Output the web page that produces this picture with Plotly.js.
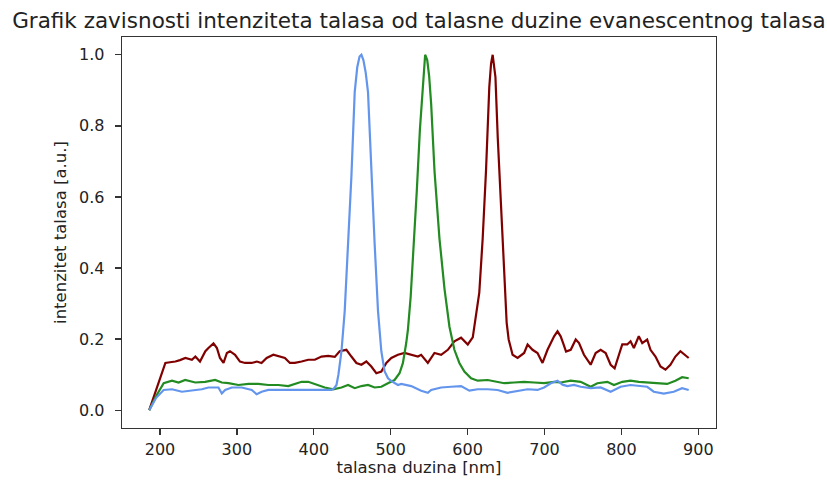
<!DOCTYPE html>
<html>
<head>
<meta charset="utf-8">
<script src="https://cdn.plot.ly/plotly-3.0.1.min.js"></script>
<style>html,body{margin:0;padding:0;background:#fff}#chart{width:827px;height:484px}</style>
</head>
<body>
<div id="chart"></div>
<script>
// wavelengths [nm] and normalized intensities
const redX = [186,196,207,213,220,226,233,241.5,246,252,259,263,269.6,274,278,282.6,287,291,297.6,304,310.6,319,326,332,338.7,347.4,356,362.4,368.9,375.4,384.1,392.8,401.3,410,418.7,427.3,433.7,442.4,448.9,455.4,461.9,468.3,474.8,481.3,487.8,494.3,500.8,509.4,518,526.7,535.4,539.6,548.3,556.9,565.6,574.3,582.8,591.5,600.2,606.7,610.9,615.2,619.6,623.9,628.2,630.5,632.6,634.2,636.2,639.2,643.6,647.8,650.8,653.4,658.5,665,673.5,678,684.4,690.9,697.4,703.9,712.5,716.9,721,724,728,734.1,740.6,744.9,751.3,760,766.5,773,779.5,786,791.2,796.8,801.1,807.6,811.9,816.2,822.6,827.1,833.5,837.8,844.3,850.8,857.3,863.7,870.2,876.7,883.2,887.5];
const redY = [0,0.065,0.133,0.135,0.137,0.141,0.147,0.142,0.151,0.137,0.166,0.175,0.188,0.175,0.147,0.133,0.161,0.166,0.156,0.137,0.133,0.133,0.137,0.133,0.147,0.156,0.151,0.147,0.133,0.133,0.137,0.142,0.142,0.151,0.153,0.150,0.166,0.170,0.151,0.133,0.128,0.137,0.123,0.104,0.109,0.133,0.147,0.156,0.161,0.156,0.151,0.156,0.133,0.161,0.156,0.170,0.194,0.204,0.185,0.205,0.265,0.331,0.483,0.672,0.909,0.975,1.0,0.975,0.937,0.767,0.578,0.388,0.246,0.199,0.156,0.147,0.161,0.185,0.170,0.161,0.133,0.170,0.208,0.222,0.208,0.190,0.165,0.170,0.199,0.189,0.156,0.128,0.161,0.170,0.161,0.128,0.118,0.156,0.185,0.185,0.194,0.175,0.208,0.189,0.199,0.170,0.151,0.123,0.114,0.128,0.151,0.166,0.156,0.147];

const greenX = [186,195,204.8,215.6,224.2,232.8,245.8,258.7,271.7,280.4,289,302,315,327.9,340.9,353.9,366.8,371.1,384.1,392.8,401.3,414.3,425.2,436,444.6,453.2,461.9,470.5,479.1,487.8,496.4,505,511.5,515.9,520.2,522.4,526,530,534,538,541.5,544.8,547.5,550,552.6,557,563.4,570,576.4,582.8,589.3,595.8,604.5,613.1,626.1,639,647.7,660.6,673.5,686.5,699.5,712.5,721.1,734.1,747,760,768.7,781.7,790.3,801.1,811.9,822.6,833.5,846.5,859.5,870.2,878.9,887.5];
const greenY = [0,0.040,0.076,0.083,0.078,0.085,0.078,0.080,0.085,0.078,0.076,0.071,0.074,0.074,0.071,0.071,0.068,0.071,0.080,0.080,0.074,0.064,0.059,0.064,0.071,0.062,0.068,0.071,0.064,0.066,0.076,0.085,0.104,0.133,0.189,0.227,0.32,0.46,0.62,0.79,0.91,1.0,0.985,0.94,0.862,0.672,0.483,0.341,0.235,0.170,0.133,0.109,0.090,0.083,0.085,0.080,0.076,0.078,0.080,0.078,0.076,0.080,0.078,0.083,0.080,0.066,0.076,0.080,0.071,0.080,0.083,0.080,0.078,0.076,0.074,0.083,0.093,0.090];

const blueX = [186,195,204.8,215.6,228.5,241.5,254.4,263.1,276,280.4,284.7,293.4,306.3,319.3,325.7,332.2,340.9,353.9,366.8,379.8,401.3,423,426.5,429.5,432,436,440.2,444.6,448.9,453.2,456.5,459.5,461.9,464.5,467.5,470.5,474.8,479.1,483.5,487.8,492,496.5,501,509.4,513.7,526.7,539.6,548.3,552.6,565.6,578.5,591.5,602.3,613.1,626.1,639,652,665,678,690.9,699.5,708.2,716.9,723.4,729.8,738.4,747,760,773,786,799,811.9,822.6,833.5,842.1,855.1,868.1,878.9,887.5];
const blueY = [0,0.035,0.057,0.059,0.052,0.055,0.059,0.064,0.064,0.047,0.057,0.064,0.064,0.057,0.045,0.052,0.057,0.057,0.057,0.057,0.055,0.057,0.062,0.071,0.100,0.166,0.279,0.469,0.658,0.895,0.965,0.995,1.0,0.985,0.95,0.895,0.658,0.469,0.279,0.166,0.110,0.090,0.082,0.071,0.074,0.068,0.055,0.049,0.057,0.064,0.066,0.068,0.055,0.059,0.059,0.057,0.049,0.055,0.059,0.057,0.064,0.076,0.083,0.072,0.068,0.071,0.066,0.062,0.064,0.052,0.066,0.071,0.068,0.066,0.052,0.047,0.052,0.062,0.057];

const xTicks = [200,300,400,500,600,700,800,900];
const yTicks = [0.0,0.2,0.4,0.6,0.8,1.0];
const yTickText = ["0.0","0.2","0.4","0.6","0.8","1.0"];

const titleText = "Grafik zavisnosti intenziteta talasa od talasne duzine evanescentnog talasa";
const xTitle = "talasna duzina [nm]";
const yTitle = "intenzitet talasa [a.u.]";

const FONT = "DejaVu Sans, Liberation Sans, sans-serif";
const lineW = 2.2;

const traces = [
  {x: redX, y: redY, type: "scatter", mode: "lines", line: {color: "#800000", width: lineW}, hoverinfo: "skip"},
  {x: greenX, y: greenY, type: "scatter", mode: "lines", line: {color: "#228B22", width: lineW}, hoverinfo: "skip"},
  {x: blueX, y: blueY, type: "scatter", mode: "lines", line: {color: "#6495ED", width: lineW}, hoverinfo: "skip"}
];

const axisCommon = {
  showline: true, linecolor: "#333", linewidth: 1.3, mirror: true,
  ticks: "outside", ticklen: 6, tickwidth: 1.3, tickcolor: "#333",
  showgrid: false, zeroline: false,
  tickfont: {family: FONT, size: 16, color: "#222"}
};

const layout = {
  width: 827, height: 484,
  margin: {l: 122, r: 111, t: 37, b: 56, pad: 0},
  paper_bgcolor: "#fff", plot_bgcolor: "#fff",
  showlegend: false,
  font: {family: FONT, color: "#222"},
  title: {text: titleText, font: {family: FONT, size: 21.5, color: "#222"}, x: 0.5065, xanchor: "center", y: 0.958, yanchor: "middle"},
  xaxis: Object.assign({}, axisCommon, {
    range: [150.6, 923], tickvals: xTicks,
    title: {text: xTitle, font: {family: FONT, size: 16.5, color: "#222"}, standoff: 4}
  }),
  yaxis: Object.assign({}, axisCommon, {
    range: [-0.05, 1.05], tickvals: yTicks, ticktext: yTickText,
    ticklabelstandoff: 7,
    title: {text: yTitle, font: {family: FONT, size: 16.5, color: "#222"}, standoff: 8}
  })
};

Plotly.newPlot("chart", traces, layout, {displayModeBar: false, staticPlot: true});
</script>
</body>
</html>
